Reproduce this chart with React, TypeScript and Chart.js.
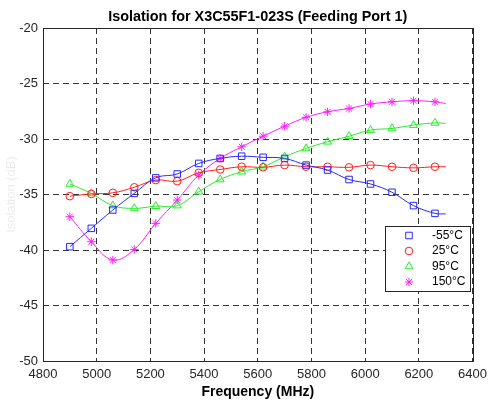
import React, { useEffect, useRef } from "react";
import { Chart, registerables } from "chart.js";
import { drawPoint } from "chart.js/helpers";

Chart.register(...registerables);

const FREQ = [4900, 4980, 5060, 5140, 5220, 5300, 5380, 5460, 5540, 5620, 5700, 5780, 5860, 5940, 6020, 6100, 6180, 6260, 6300];
const ISO_M55 = [-39.7, -38.05, -36.4, -34.9, -33.5, -33.15, -32.2, -31.75, -31.55, -31.65, -31.75, -32.35, -32.8, -33.65, -34.05, -34.8, -36.0, -36.7, -36.75];
const ISO_25 = [-35.15, -34.95, -34.85, -34.35, -33.7, -33.8, -33.05, -32.75, -32.5, -32.55, -32.35, -32.5, -32.5, -32.55, -32.35, -32.5, -32.6, -32.5, -32.5];
const ISO_95 = [-34.05, -34.9, -36.0, -36.25, -36.05, -36.0, -34.75, -33.65, -32.95, -32.5, -31.6, -30.85, -30.25, -29.75, -29.2, -29.05, -28.75, -28.55, -28.6];
const ISO_150 = [-37.0, -39.25, -40.9, -39.95, -37.6, -35.5, -33.25, -31.75, -30.7, -29.75, -28.85, -28.05, -27.55, -27.25, -26.85, -26.65, -26.55, -26.65, -26.8];

const SERIES_LABELS = ["-55°C", "25°C", "95°C", "150°C"];
const X_TICKS = [4800, 5000, 5200, 5400, 5600, 5800, 6000, 6200, 6400];
const Y_TICKS = [-50, -45, -40, -35, -30, -25, -20];

const TITLE = "Isolation for X3C55F1-023S (Feeding Port 1)";
const X_TITLE = "Frequency (MHz)";
const Y_TITLE = "Isolation (dB)";

const COLORS = ["rgb(40,40,255)", "rgb(255,30,30)", "rgb(40,235,40)", "rgb(255,30,255)"];
const STYLES = ["rect", "circle", "triangle", "star"];
const RADII = [4.6, 3.8, 4.6, 4.2];
const FONT = "'Liberation Sans', Arial, Helvetica, sans-serif";

export default function App() {
  const ref = useRef<HTMLCanvasElement | null>(null);

  useEffect(() => {
    if (!ref.current) return;
    const seriesVals = [ISO_M55, ISO_25, ISO_95, ISO_150];
    const datasets = seriesVals.map((vals, i) => ({
      label: SERIES_LABELS[i],
      data: FREQ.map((f, j) => ({ x: f, y: vals[j] })),
      borderColor: COLORS[i],
      backgroundColor: "rgba(0,0,0,0)",
      borderWidth: 1,
      pointStyle: STYLES[i] as any,
      pointRadius: FREQ.map((_, j) => (j === FREQ.length - 1 ? 0 : RADII[i])),
      pointBorderColor: COLORS[i],
      pointBackgroundColor: "rgba(0,0,0,0)",
      pointBorderWidth: 1,
      tension: 0.4,
      fill: false,
    }));

    const boxPlugin = {
      id: "boxAndTitle",
      afterDraw(chart: any) {
        const { ctx, chartArea } = chart;
        const { left, right, top, bottom } = chartArea;
        ctx.save();
        ctx.strokeStyle = "#262626";
        ctx.lineWidth = 1;
        ctx.setLineDash([]);
        ctx.strokeRect(Math.round(left) + 0.5, Math.round(top) + 0.5, Math.round(right - left), Math.round(bottom - top));
        // title
        ctx.fillStyle = "#000";
        ctx.font = `bold 14.4px ${FONT}`;
        ctx.textAlign = "center";
        ctx.textBaseline = "middle";
        ctx.fillText(TITLE, (left + right) / 2, 17);
        // legend
        const lx = 385, ly = 226, lw = 85, lh = 65;
        ctx.fillStyle = "#fff";
        ctx.fillRect(lx, ly, lw, lh);
        ctx.strokeStyle = "#262626";
        ctx.strokeRect(lx + 0.5, ly + 0.5, lw, lh);
        ctx.font = `12px ${FONT}`;
        ctx.textAlign = "left";
        ctx.textBaseline = "middle";
        SERIES_LABELS.forEach((lab, i) => {
          const yy = ly + 9.5 + i * 15.5;
          ctx.strokeStyle = COLORS[i];
          ctx.fillStyle = "rgba(0,0,0,0)";
          ctx.lineWidth = 1;
          drawPoint(ctx, { pointStyle: STYLES[i] as any, radius: RADII[i], rotation: 0, borderWidth: 1 }, 409, yy);
          ctx.fillStyle = "#000";
          ctx.fillText(lab, 432, yy);
        });
        ctx.restore();
      },
    };

    const chart = new Chart(ref.current, {
      type: "line",
      data: { datasets: datasets as any },
      plugins: [boxPlugin],
      options: {
        animation: false,
        responsive: false,
        maintainAspectRatio: false,
        layout: { padding: { top: 28, right: 17, left: 0, bottom: 0 } },
        plugins: {
          legend: { display: false },
          title: { display: false },
          tooltip: { enabled: false },
        },
        scales: {
          x: {
            type: "linear",
            min: 4800,
            max: 6400,
            afterFit: (s: any) => { s.height = 39; },
            afterBuildTicks: (s: any) => { s.ticks = X_TICKS.map((v) => ({ value: v })); },
            ticks: { padding: 6, color: "#262626", font: { family: FONT, size: 13 }, maxRotation: 0, autoSkip: false, callback: (v: any) => String(v) },
            grid: { color: "#333", drawTicks: false, lineWidth: 1 },
            border: { display: false, dash: [6, 4] },
            title: { display: true, text: X_TITLE, color: "#000", font: { family: FONT, size: 14, weight: "bold" }, padding: { top: 0, bottom: -1 } },
          },
          y: {
            type: "linear",
            min: -50,
            max: -20,
            afterFit: (s: any) => { s.width = 43; },
            afterBuildTicks: (s: any) => { s.ticks = Y_TICKS.map((v) => ({ value: v })); },
            ticks: { padding: 5, color: "#262626", font: { family: FONT, size: 13 }, callback: (v: any) => String(v) },
            grid: { color: "#333", drawTicks: false, lineWidth: 1 },
            border: { display: false, dash: [6, 4] },
            title: { display: true, text: Y_TITLE, color: "rgba(0,0,0,0.08)", font: { family: FONT, size: 13 }, padding: { top: 4, bottom: 0 } },
          },
        },
      } as any,
    });
    return () => chart.destroy();
  }, []);

  return (
    <div style={{ position: "fixed", left: 0, top: 0, width: 493, height: 400, background: "#fff" }}>
      <canvas ref={ref} width={493} height={400} style={{ width: 493, height: 400, display: "block" }} />
    </div>
  );
}
